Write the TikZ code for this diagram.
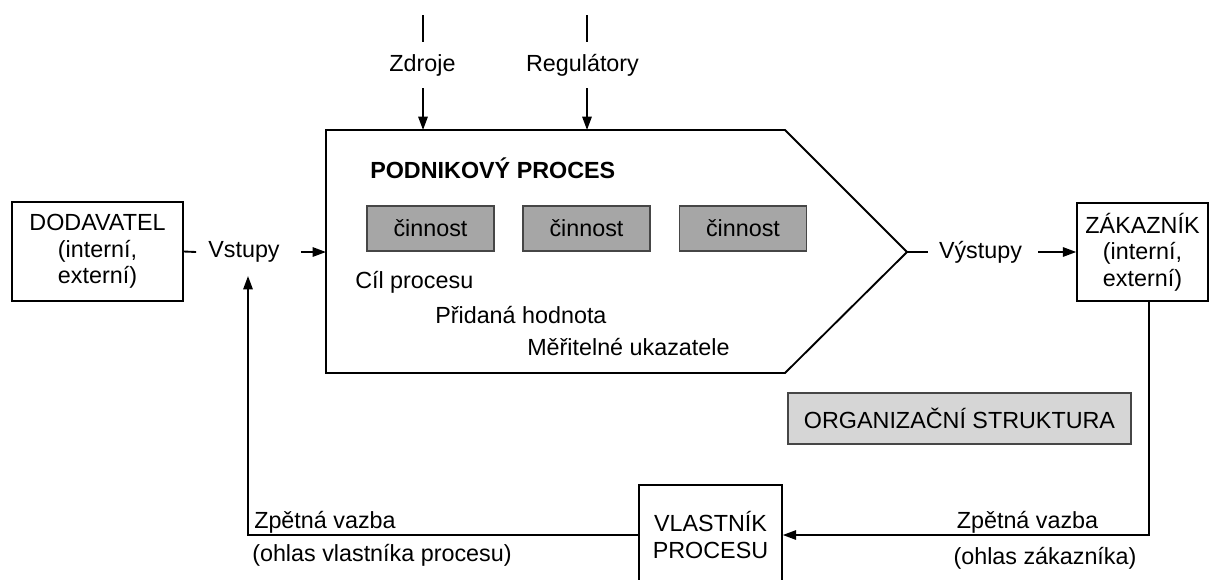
\documentclass[tikz,border=0pt]{standalone}
\usepackage{fontspec}
\setmainfont{Liberation Sans}
\usetikzlibrary{arrows.meta}
\definecolor{actfill}{RGB}{166,166,166}
\definecolor{boxline}{RGB}{70,70,70}
\definecolor{orgfill}{RGB}{214,214,214}
\begin{document}
\begin{tikzpicture}[x=0.75pt,y=-0.75pt,
  font=\fontsize{17.5}{20}\selectfont,
  line/.style={line width=1.4pt},
  arr/.style={line width=1.4pt,-{Triangle[length=10pt,width=7pt]}},
  party/.style={draw,line width=1.1pt,align=center,inner sep=0pt},
  activity/.style={draw=boxline,fill=actfill,line width=1pt,
    minimum width=95.25pt,minimum height=33.75pt,inner sep=0pt},
  lbl/.style={inner sep=0pt}]
\clip (0,0) rectangle (1211,579);
\fill[white] (0,0) rectangle (1211,579);

% suppliers, customers, owner
\node[party,minimum width=128.25pt,minimum height=74.25pt] (dod) at (97.5,251.5)
  {DODAVATEL\\(interní,\\externí)};
\node[party,minimum width=98.25pt,minimum height=73.5pt] (zak) at (1142.5,252)
  {ZÁKAZNÍK\\(interní,\\externí)};
\node[party,minimum width=107.25pt,minimum height=75pt] (vla) at (710.5,535)
  {VLASTNÍK\\PROCESU};
\node[draw=boxline,fill=orgfill,line width=1.1pt,minimum width=257.25pt,
  minimum height=38.25pt,inner sep=0pt] (org) at (959.5,418.5) {ORGANIZAČNÍ STRUKTURA};

% the process arrow shape
\coordinate (pTL) at (326,130);
\coordinate (pTR) at (785,130);
\coordinate (pTip) at (907,252);
\coordinate (pBR) at (785,373);
\coordinate (pBL) at (326,373);
\coordinate (pIn) at (326,252);
\draw[line] (pTL) -- (pTR) -- (pTip) -- (pBR) -- (pBL) -- cycle;

\node[lbl,anchor=west,font=\fontsize{17.5}{20}\selectfont\bfseries] (title) at (370,168)
  {PODNIKOVÝ PROCES};
\node[activity] (a1) at (430.5,228.5) {činnost};
\node[activity] (a2) at (586.5,228.5) {činnost};
\node[activity] (a3) at (743,228.5) {činnost};
\node[lbl,anchor=west] (goal) at (355,282) {Cíl procesu};
\node[lbl,anchor=west] (value) at (435,315) {Přidaná hodnota};
\node[lbl,anchor=west] (kpi) at (527,347) {Měřitelné ukazatele};

% inputs
\node[lbl] (vst) at (244,252) {Vstupy};
\draw[line] (dod.east) -- ([xshift=-9pt]vst.west);
\draw[arr] ([xshift=15.75pt]vst.east) -- (pIn);

% outputs
\node[lbl] (vys) at (980.5,252) {Výstupy};
\draw[line] (pTip) -- ([xshift=-8.25pt]vys.west);
\draw[arr] ([xshift=12pt]vys.east) -- (zak.west);

% resources and regulators
\node[lbl,minimum height=34.5pt] (zdr) at (422.5,65) {Zdroje};
\node[lbl,minimum height=34.5pt] (reg) at (582.5,65) {Regulátory};
\coordinate (zdrTop) at (423,15);
\coordinate (regTop) at (587,15);
\draw[line] (zdrTop) -- (zdrTop |- zdr.north);
\draw[arr] (zdrTop |- zdr.south) -- (zdrTop |- pTL);
\draw[line] (regTop) -- (regTop |- reg.north);
\draw[arr] (regTop |- reg.south) -- (regTop |- pTL);

% feedback loops
\coordinate (zakOut) at (1149,301);
\coordinate (fbIn) at (248,276);
\draw[arr] (zakOut) |- (vla.east);
\draw[arr] (vla.west) -| (fbIn);
\node[lbl] (fbR) at (1027.5,522) {Zpětná vazba};
\node[lbl] (fbRn) at (1045,558) {(ohlas zákazníka)};
\node[lbl,anchor=west] (fbL) at (254,522) {Zpětná vazba};
\node[lbl,anchor=west] (fbLn) at (252,555) {(ohlas vlastníka procesu)};
\end{tikzpicture}
\end{document}
